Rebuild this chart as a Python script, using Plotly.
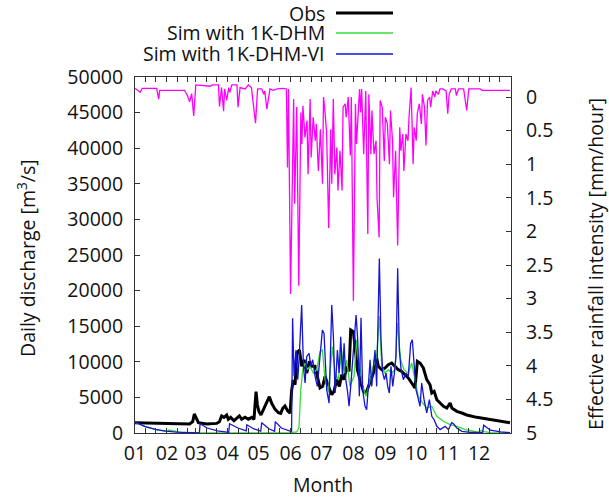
import plotly.graph_objects as go

# ---------------- data ----------------
month_labels = ["01", "02", "03", "04", "05", "06", "07", "08", "09", "10", "11", "12"]
month_start_day = [0, 31, 59, 90, 120, 151, 181, 212, 243, 273, 304, 334]
q_ticks = [0, 5000, 10000, 15000, 20000, 25000, 30000, 35000, 40000, 45000, 50000]
rain_ticks = [0, 0.5, 1, 1.5, 2, 2.5, 3, 3.5, 4, 4.5, 5]

obs_day = [0, 24, 53, 56, 57.6, 59.2, 61.5, 69.6, 79.3, 81.9, 84.1, 86.4, 89, 90.6, 92.9, 96.1, 98.7,
           101.3, 103.6, 106.8, 110, 113.3, 115.5, 117.5, 118.8, 120.4, 122.3, 124.6, 127.8, 130.4,
           132.7, 136, 139.2, 141.4, 143.4, 145.6, 148.2, 150.5, 152.1, 153.7, 155.4, 157, 159.6,
           161.8, 164.1, 166.7, 169.3, 171.5, 174.8, 177, 179.6, 182.2, 184.5, 187.7, 191, 193.2,
           195.8, 198.4, 200.6, 202.9, 205.5, 207.8, 209.4, 212, 213.6, 215.9, 218.4, 221.7, 224.3,
           226.5, 228.8, 231.4, 234, 236.2, 239.5, 242.7, 245.9, 249.2, 252.4, 255.6, 258.9, 262.1,
           265.3, 268.6, 271.8, 274.1, 276.7, 279.9, 283.2, 286.4, 288.1, 290.4, 293, 296.2, 299.4,
           302.7, 305.9, 307.6, 312.4, 317.3, 322, 331.7, 347.9, 364]
obs_q = [1450, 1350, 1260, 1590, 2670, 2200, 1450, 1260, 1350, 1590, 2400, 2200, 2530, 1920, 2200,
         1730, 2060, 2390, 1920, 2200, 1920, 2200, 1920, 5800, 3930, 3000, 2530, 3230, 4400, 5100,
         4170, 3320, 2860, 2760, 3460, 3790, 3100, 2800, 6040, 7440, 6780, 11190, 11660, 9360, 10290,
         8420, 10060, 9360, 9360, 7960, 6320, 6550, 7960, 6550, 5380, 5850, 7490, 6550, 8190, 7490,
         9360, 8650, 14470, 14240, 11660, 8890, 7490, 5850, 5620, 6550, 7490, 8420, 10990, 9360,
         8890, 9130, 9600, 9830, 9360, 8890, 8650, 8190, 7720, 7020, 6320, 10060, 9830, 9130, 7490,
         6780, 5620, 5850, 4680, 4210, 3750, 3510, 4210, 3510, 3040, 2810, 2530, 2200, 1820, 1450]

dhm_day = [0, 10, 20, 30, 31.5, 33, 38, 45, 60, 150, 157, 159.2, 160.9, 162.9, 165.1, 167.4, 170,
           173.1, 176.4, 179.6, 181.9, 184.5, 187.7, 191.6, 194.2, 197.4, 200.6, 203.2, 205.5,
           208.7, 212.6, 215.2, 217.8, 221, 224.3, 227.5, 231.4, 234.6, 237.2, 239.5, 242.7, 245.9,
           249.2, 252.4, 254.6, 257.9, 261.1, 265.3, 268.6, 271.8, 275, 279.3, 283.2, 288.1, 293,
           299.4, 305.9, 312.4, 320.5, 325.4, 333, 336, 339, 345, 364]
dhm_q = [1500, 880, 480, 230, 200, 420, 250, 100, 20, 0, 140, 800, 6040, 8890, 9830, 8890, 9360,
         8420, 8890, 11430, 11660, 7490, 5850, 12130, 8420, 7490, 11660, 8420, 10290, 6550, 7960,
         13100, 9830, 6550, 5150, 7020, 9360, 10760, 16380, 9360, 8420, 8890, 8420, 8890, 15450,
         10290, 8890, 8420, 9830, 7490, 5150, 4210, 3510, 3750, 2340, 1640, 1170, 940, 470, 350,
         100, 350, 200, 60, 0]

vi_day = [0, 10, 20, 30, 40, 55, 62.5, 63.2, 70, 80, 91, 91.8, 100, 108, 108.6, 115, 122, 123, 130,
          135.5, 136.2, 142, 148, 152, 153, 154.4, 156.3, 158, 159.6, 161.8, 163.5, 165.1, 166.7,
          169, 170.6, 172.5, 174.8, 177, 179.6, 181.9, 183.5, 186.1, 188.4, 191, 192.6, 194.2,
          196.5, 198.1, 199.7, 201.4, 203, 204.6, 206.5, 207.8, 209.4, 212, 214.6, 216.2, 217.8,
          219.4, 221, 223.3, 224.9, 226.5, 228.2, 229.8, 231.4, 233, 234.6, 237.2, 238.8, 240.5,
          242.1, 243.7, 245.3, 246.9, 248.5, 250.2, 251.8, 253.4, 255, 256.6, 258.3, 260.5, 263.1,
          265.3, 267.6, 269.2, 271.1, 272.8, 274.4, 276.7, 278.3, 280.6, 283.2, 285.8, 288.1, 290.4,
          293, 296.2, 301.1, 304.3, 307.4, 309.2, 312.4, 317.3, 325.4, 337.5, 338.5, 345, 355, 364]
vi_q = [1550, 900, 500, 250, 120, 50, 30, 1300, 700, 300, 100, 1300, 700, 300, 1150, 600, 250, 1450,
        600, 250, 1600, 700, 350, 200, 16110, 7960, 11660, 7490, 11190, 17980, 9360, 7020, 10760,
        11190, 9360, 10290, 7960, 6550, 10760, 14470, 14000, 6040, 4210, 17980, 13520, 5620, 11660,
        8420, 13520, 7960, 12590, 7490, 5620, 3750, 6550, 12000, 16570, 13100, 5150, 16200, 6040,
        3750, 3280, 6550, 10290, 6550, 8890, 11660, 6550, 24500, 13100, 8420, 7490, 8420, 6550,
        5620, 9360, 6550, 8420, 10760, 23130, 11660, 8890, 7490, 8420, 7960, 12590, 13100, 9360,
        6040, 5150, 3750, 7020, 4680, 2810, 4680, 2340, 1870, 940, 470, 940, 470, 1450, 1300, 700,
        240, 100, 80, 1100, 400, 150, 50]

rain_day = [0, 5, 7, 21, 23, 24, 48, 51, 53, 55, 57, 59, 73, 75, 81, 82, 84, 86, 87, 89, 91, 92, 94,
            99, 100, 102, 107, 110, 113, 117, 119, 123, 125, 126, 128, 131, 134, 138, 144, 147, 148,
            149, 151, 154, 155, 157, 159, 161, 162, 163, 165, 167, 168, 170, 171, 173, 175, 176,
            178, 180, 182, 183, 184, 186, 188, 190, 191, 192.5, 194, 196, 197, 199, 201, 202, 204,
            205, 207, 209, 210, 212, 214, 215, 217, 218, 219, 220, 222, 224, 226, 227, 229, 230, 232,
            234, 235, 237, 238, 240, 242, 243, 245, 247, 248, 250, 251, 253, 255, 257, 258, 260, 261,
            263, 265, 266, 268, 270, 271, 273, 274, 276, 278, 279, 281, 282.5, 284, 286, 287, 289,
            291, 292, 294.5, 296, 299, 302, 303.6, 305, 307, 311, 312, 314, 319, 322, 324, 328, 335,
            337, 364]
rain_mm = [-0.13, -0.07, -0.13, -0.13, 0.03, -0.10, -0.10, -0.02, 0.07, -0.05, 0.28, -0.18, -0.16,
           -0.18, -0.18, 0.14, -0.14, 0.21, -0.12, 0.05, -0.14, -0.07, -0.18, -0.18, 0.15, -0.14,
           -0.12, -0.18, -0.14, 0.39, -0.12, -0.12, -0.04, -0.09, 0.18, -0.12, -0.10, -0.12, -0.13,
           -0.12, 1.05, -0.12, 2.93, 0.03, 1.59, 0.15, 2.81, 0.23, 0.70, 0.13, 0.60, 0.35, 1.15, 0.03,
           0.90, 0.30, 0.65, 0.40, 1.10, 0.48, 1.29, 0.00, 0.15, 0.52, 1.95, 0.48, 1.29, 0.03, 1.15,
           0.75, 1.39, 0.80, 1.39, 0.15, 0.10, 0.30, 0.00, 0.87, 0.00, 3.03, 0.10, 0.70, 0.15, -0.12,
           0.23, -0.12, 0.85, -0.09, 2.04, -0.04, 0.85, 0.20, 0.85, 0.65, 1.52, 2.09, 0.05, 0.15, 0.95,
           0.30, 0.40, 1.00, 0.20, 0.65, 1.49, 0.80, 2.21, 0.45, 0.80, 0.55, 1.10, 0.55, 0.65, 0.30,
           -0.14, 1.00, 0.45, 0.65, 0.25, 0.10, 0.40, -0.04, 0.15, 0.72, 0.05, 0.00, 0.15, -0.09, 0.00,
           -0.09, -0.04, -0.12, -0.12, -0.09, 0.25, -0.04, -0.12, -0.12, -0.02, -0.12, -0.12, 0.20,
           -0.12, -0.12, -0.12, -0.10, -0.10]

series_names = ["Obs", "Sim with 1K-DHM", "Sim with 1K-DHM-VI"]
series_colors = ["#000000", "#33dd33", "#1414d2"]
series_widths = [3, 1.3, 1.3]
rain_color = "#ff00ff"

# ---------------- figure ----------------
FONT = "Open Sans"
FS = 19.5
W, H = 609, 499
# plot-area edges, in picture pixels
L, R, T, B = 135, 511, 77, 433
PW, PH = R - L, B - T


def px(xp):
    return (xp - L) / PW


def py(yp):
    return (B - yp) / PH


fig = go.Figure()
for name, xs, ys, col, w in zip(series_names, [obs_day, dhm_day, vi_day], [obs_q, dhm_q, vi_q],
                                series_colors, series_widths):
    fig.add_trace(go.Scatter(x=xs, y=ys, mode="lines", name=name,
                             line=dict(color=col, width=w), showlegend=False))
fig.add_trace(go.Scatter(x=rain_day, y=rain_mm, mode="lines", name="Rain", yaxis="y2",
                         line=dict(color=rain_color, width=1.3), showlegend=False))

# x ticks: month starts labelled, thirds of months as unlabelled ticks
tickvals, ticktext = [], []
for i, d in enumerate(month_start_day):
    tickvals += [d, d + 10, d + 20]
    ticktext += [month_labels[i], "", ""]

frame = "#333333"
fig.update_layout(
    width=W, height=H,
    margin=dict(l=L, r=W - R, t=T, b=H - B, autoexpand=False),
    plot_bgcolor="white", paper_bgcolor="white",
    font=dict(family=FONT, size=FS, color="#111111"),
    showlegend=False,
    xaxis=dict(range=[0, 365], tickmode="array", tickvals=tickvals, ticktext=ticktext,
               ticks="inside", ticklen=5, tickcolor=frame, showline=True, linecolor=frame,
               linewidth=1, mirror="ticks", showgrid=False, zeroline=False,
               ticklabelstandoff=3),
    yaxis=dict(range=[0, 50000], tickmode="array", tickvals=q_ticks,
               ticktext=[str(v) for v in q_ticks], ticks="inside",
               ticklen=5, tickcolor=frame, showline=True, linecolor=frame, linewidth=1,
               showgrid=False, zeroline=False, ticklabelstandoff=7),
    yaxis2=dict(range=[5, -0.298], overlaying="y", side="right", tickmode="array",
                tickvals=rain_ticks, ticktext=[f"{v:g}" for v in rain_ticks],
                ticks="inside", ticklen=5, tickcolor=frame, showline=True, linecolor=frame,
                linewidth=1, showgrid=False, zeroline=False, ticklabelstandoff=10),
)

# axis titles
fig.add_annotation(text="Daily discharge [m<sup>3</sup>/s]", xref="paper", yref="paper",
                   x=px(26), y=py(258), textangle=-90, showarrow=False,
                   xanchor="center", yanchor="middle", font=dict(size=FS))
fig.add_annotation(text="Effective rainfall intensity [mm/hour]", xref="paper", yref="paper",
                   x=px(595), y=py(264), textangle=-90, showarrow=False,
                   xanchor="center", yanchor="middle", font=dict(size=FS))
fig.add_annotation(text="Month", xref="paper", yref="paper", x=0.5, y=py(485),
                   showarrow=False, xanchor="center", yanchor="middle", font=dict(size=FS))

# legend (text right-aligned, line sample to its right)
legend_rows_py = [13, 33, 54]
for name, col, w, yrow in zip(series_names, series_colors, series_widths, legend_rows_py):
    yp = py(yrow)
    fig.add_annotation(text=name, xref="paper", yref="paper", x=px(327), y=yp,
                       showarrow=False, xanchor="right", yanchor="middle", font=dict(size=FS))
    fig.add_shape(type="line", xref="paper", yref="paper", x0=px(336), x1=px(393),
                  y0=yp, y1=yp, line=dict(color=col, width=w))

# remove the browser's default page margin so the figure fills the window exactly
fig.write_html("out.html", config={"displayModeBar": False, "staticPlot": True},
               post_script="document.body.style.margin='0';"
                           "document.body.style.overflow='hidden';")
